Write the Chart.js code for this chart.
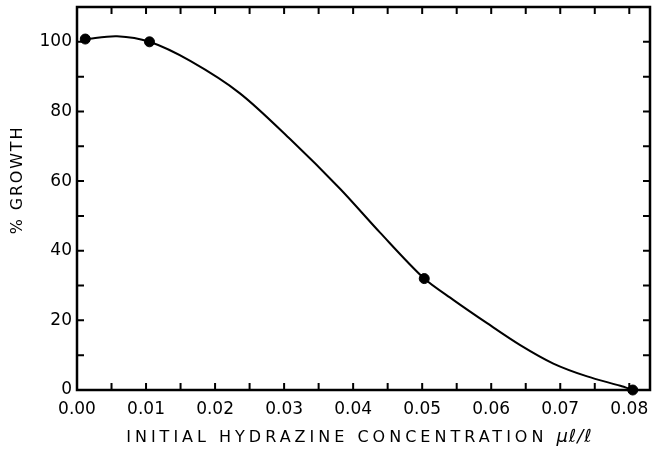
<!DOCTYPE html>
<html>
<head>
<meta charset="utf-8">
<script src="https://cdn.jsdelivr.net/npm/chart.js@4/dist/chart.umd.min.js"></script>
<style>
html,body{margin:0;padding:0;background:#fff;}
canvas{display:block;}
</style>
</head>
<body>
<canvas id="c" width="656" height="458"></canvas>
<script>
// Measured data points
const concentration = [0.0012, 0.0105, 0.0503, 0.0805];
const growthPct = [100.8, 100, 32, 0];
// Fitted curve
const curveConc = [0.0012, 0.0058, 0.0105, 0.0164, 0.0236, 0.0309, 0.0381, 0.0439, 0.0503, 0.0545, 0.0594, 0.0642, 0.0690, 0.0739, 0.0787, 0.0805];
const curveGrowth = [100.8, 101.6, 100, 94.5, 85.2, 72, 57.8, 45.2, 32, 25.9, 19.2, 12.9, 7.6, 3.9, 1.2, 0];
const xTitle = 'INITIAL HYDRAZINE CONCENTRATION';
const xUnit = 'μℓ/ℓ';
const yTitle = '% GROWTH';

const FONT = '"DejaVu Sans", sans-serif';

const frameTicks = {
  id: 'frameTicks',
  beforeDatasetsDraw(chart) {
    const {ctx, chartArea: a, scales: {x, y}} = chart;
    ctx.save();
    ctx.strokeStyle = '#000';
    ctx.lineWidth = 2.5;
    ctx.strokeRect(a.left, a.top, a.right - a.left, a.bottom - a.top);
    ctx.lineWidth = 2;
    const L = 7;
    ctx.beginPath();
    x.ticks.forEach(t => {
      const px = x.getPixelForValue(t.value);
      if (px <= a.left + 1 || px >= a.right - 1) return;
      ctx.moveTo(px, a.bottom); ctx.lineTo(px, a.bottom - L);
      ctx.moveTo(px, a.top); ctx.lineTo(px, a.top + L);
    });
    y.ticks.forEach(t => {
      const py = y.getPixelForValue(t.value);
      if (py <= a.top + 1 || py >= a.bottom - 1) return;
      ctx.moveTo(a.left, py); ctx.lineTo(a.left + L, py);
      ctx.moveTo(a.right, py); ctx.lineTo(a.right - L, py);
    });
    ctx.stroke();
    ctx.restore();
  },
  afterDraw(chart) {
    const {ctx, chartArea: a} = chart;
    ctx.save();
    ctx.fillStyle = '#000';
    // x title
    ctx.textBaseline = 'alphabetic';
    ctx.textAlign = 'left';
    ctx.font = '16px ' + FONT;
    ctx.letterSpacing = '4px';
    const w1 = ctx.measureText(xTitle).width;
    ctx.font = 'italic 18px ' + FONT;
    ctx.letterSpacing = '1px';
    const w2 = ctx.measureText(xUnit).width;
    const gap = 9;
    const total = w1 + gap + w2;
    const cx = (a.left + a.right) / 2 - 4;
    const sx = cx - total / 2;
    ctx.font = '16px ' + FONT;
    ctx.letterSpacing = '4px';
    ctx.fillText(xTitle, sx, 442);
    ctx.font = 'italic 18px ' + FONT;
    ctx.letterSpacing = '1px';
    ctx.fillText(xUnit, sx + w1 + gap, 442);
    // y title
    ctx.translate(22, 180);
    ctx.rotate(-Math.PI / 2);
    ctx.font = '16px ' + FONT;
    ctx.letterSpacing = '1.8px';
    ctx.textAlign = 'center';
    ctx.fillText(yTitle, 0, 0);
    ctx.restore();
  }
};

new Chart(document.getElementById('c'), {
  type: 'scatter',
  data: {
    datasets: [
      {
        data: curveConc.map((v, i) => ({x: v, y: curveGrowth[i]})),
        showLine: true,
        borderColor: '#000',
        borderWidth: 2,
        pointRadius: 0,
        tension: 0.3,
        clip: false,
        order: 2
      },
      {
        data: concentration.map((v, i) => ({x: v, y: growthPct[i]})),
        showLine: false,
        backgroundColor: '#000',
        borderColor: '#000',
        pointRadius: 5,
        pointHoverRadius: 5,
        clip: false,
        order: 1
      }
    ]
  },
  options: {
    responsive: false,
    devicePixelRatio: 1,
    animation: false,
    events: [],
    layout: {padding: {left: 0, top: 7, right: 6, bottom: 0}},
    plugins: {legend: {display: false}, tooltip: {enabled: false}},
    scales: {
      x: {
        type: 'linear',
        min: 0,
        max: 0.083,
        afterFit(s) { s.height = 68; s.paddingLeft = 0; s.paddingRight = 0; },
        grid: {display: false, drawTicks: false},
        border: {display: false},
        ticks: {
          stepSize: 0.005,
          includeBounds: false,
          autoSkip: false,
          maxRotation: 0,
          padding: 9,
          color: '#000',
          font: {family: FONT, size: 17},
          callback: v => (Math.round(v * 1000) % 10 === 0 ? v.toFixed(2) : '')
        }
      },
      y: {
        min: 0,
        max: 110,
        afterFit(s) { s.width = 77; s.paddingTop = 0; s.paddingBottom = 0; },
        grid: {display: false, drawTicks: false},
        border: {display: false},
        ticks: {
          stepSize: 10,
          includeBounds: false,
          autoSkip: false,
          padding: 5,
          color: '#000',
          font: {family: FONT, size: 17},
          callback: v => (v % 20 === 0 && v <= 100 ? String(v) : '')
        }
      }
    }
  },
  plugins: [frameTicks]
});
</script>
</body>
</html>
